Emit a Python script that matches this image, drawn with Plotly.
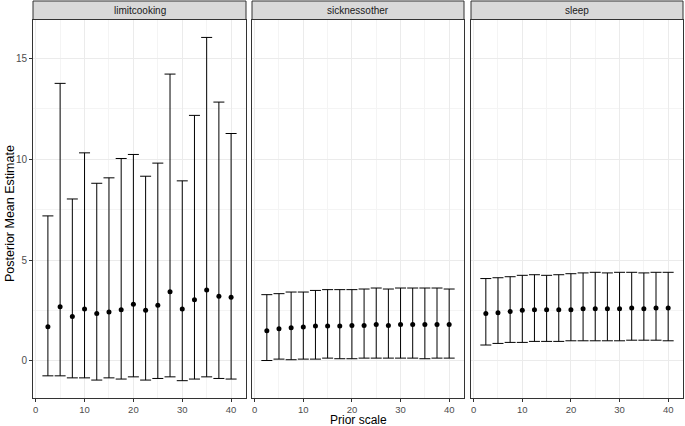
import plotly.graph_objects as go

prior_scale = [2.5, 5, 7.5, 10, 12.5, 15, 17.5, 20, 22.5, 25, 27.5, 30, 32.5, 35, 37.5, 40]
panels = ["limitcooking", "sicknessother", "sleep"]

limitcooking_mean = [1.69, 2.68, 2.19, 2.57, 2.34, 2.42, 2.53, 2.80, 2.50, 2.76, 3.43, 2.57, 3.03, 3.51, 3.20, 3.15]
limitcooking_lower = [-0.75, -0.75, -0.85, -0.85, -0.96, -0.85, -0.91, -0.80, -0.96, -0.88, -0.80, -0.99, -0.91, -0.80, -0.88, -0.91]
limitcooking_upper = [7.19, 13.77, 8.03, 10.32, 8.81, 9.08, 10.04, 10.24, 9.16, 9.81, 14.23, 8.93, 12.18, 16.05, 12.84, 11.28]

sicknessother_mean = [1.49, 1.59, 1.64, 1.67, 1.72, 1.72, 1.72, 1.75, 1.75, 1.80, 1.75, 1.80, 1.80, 1.80, 1.80, 1.80]
sicknessother_lower = [0.01, 0.08, 0.05, 0.08, 0.08, 0.13, 0.10, 0.10, 0.13, 0.13, 0.13, 0.13, 0.13, 0.10, 0.13, 0.13]
sicknessother_upper = [3.28, 3.33, 3.41, 3.41, 3.49, 3.53, 3.53, 3.53, 3.56, 3.61, 3.56, 3.61, 3.61, 3.61, 3.61, 3.56]

sleep_mean = [2.34, 2.38, 2.45, 2.50, 2.53, 2.53, 2.53, 2.53, 2.58, 2.58, 2.58, 2.58, 2.62, 2.58, 2.62, 2.62]
sleep_lower = [0.78, 0.86, 0.91, 0.91, 0.96, 0.96, 0.96, 0.99, 0.99, 0.99, 0.99, 0.99, 1.02, 1.02, 1.02, 0.99]
sleep_upper = [4.08, 4.12, 4.17, 4.24, 4.27, 4.24, 4.27, 4.32, 4.36, 4.39, 4.36, 4.39, 4.39, 4.36, 4.39, 4.39]

x_ticks = [0, 10, 20, 30, 40]
y_ticks = [0, 5, 10, 15]

series = [
    (limitcooking_mean, limitcooking_lower, limitcooking_upper),
    (sicknessother_mean, sicknessother_lower, sicknessother_upper),
    (sleep_mean, sleep_lower, sleep_upper),
]

W, H = 685, 426
ML, MR, MT, MB = 33, 2, 1, 28
PW = W - ML - MR
PH = H - MT - MB

def px_x(p):
    return (p - ML) / PW

def px_y(p):
    return (H - MB - p) / PH

x_domains = [(px_x(33), px_x(246)), (px_x(252), px_x(464)), (px_x(471), px_x(683))]
panel_top = px_y(19.5)

fig = go.Figure()
grid_major = "#EBEBEB"
axis_col = "#333333"
font_family = "Liberation Sans, Arial, sans-serif"

for i, (m, lo, up) in enumerate(series):
    suffix = "" if i == 0 else str(i + 1)
    fig.add_trace(go.Scatter(
        x=prior_scale, y=m, mode="markers",
        marker=dict(color="black", size=5),
        error_y=dict(type="data", symmetric=False,
                     array=[u - v for u, v in zip(up, m)],
                     arrayminus=[v - l for v, l in zip(m, lo)],
                     color="black", thickness=1, width=5.5),
        xaxis="x" + suffix, yaxis="y" + suffix, showlegend=False,
    ))
    xa = dict(
        domain=list(x_domains[i]), anchor="y" + suffix, range=[-0.55, 43.05],
        tickvals=x_ticks, ticks="outside", ticklen=2.5, tickwidth=1, tickcolor=axis_col,
        tickfont=dict(size=9.5, color="#4D4D4D", family=font_family),
        showgrid=True, gridcolor=grid_major, gridwidth=1,
        minor=dict(dtick=5, tick0=0, showgrid=True, gridcolor="#F4F4F4", gridwidth=0.6, ticks=""),
        showline=True, linecolor=axis_col, linewidth=1, mirror=True, zeroline=False,
    )
    ya = dict(
        domain=[0, panel_top], anchor="x" + suffix, range=[-1.85, 16.94],
        tickvals=y_ticks, ticks="outside" if i == 0 else "", ticklen=3, tickwidth=1, tickcolor=axis_col,
        showticklabels=(i == 0),
        tickfont=dict(size=10, color="#4D4D4D", family=font_family),
        showgrid=True, gridcolor=grid_major, gridwidth=1,
        minor=dict(dtick=2.5, tick0=0, showgrid=True, gridcolor="#F4F4F4", gridwidth=0.6, ticks=""),
        showline=True, linecolor=axis_col, linewidth=1, mirror=True, zeroline=False,
    )
    if i > 0:
        ya["matches"] = "y"
    fig.layout["xaxis" + suffix] = xa
    fig.layout["yaxis" + suffix] = ya

    fig.add_shape(type="rect", xref="x" + suffix + " domain", yref="paper",
                  x0=0, x1=1, y0=panel_top, y1=1.0,
                  fillcolor="#D9D9D9", line=dict(color=axis_col, width=1), layer="above")
    fig.add_annotation(text=panels[i], xref="x" + suffix + " domain", yref="paper",
                       x=0.5, y=(panel_top + 1.0) / 2, showarrow=False,
                       xanchor="center", yanchor="middle",
                       font=dict(size=10, color="#1A1A1A", family=font_family))

fig.add_annotation(text="Prior scale", xref="paper", yref="paper",
                   x=px_x(358), y=px_y(420.5), showarrow=False, xanchor="center", yanchor="middle",
                   borderpad=0,
                   font=dict(size=12, color="black", family=font_family))
fig.add_annotation(text="Posterior Mean Estimate", xref="paper", yref="paper",
                   x=px_x(10), y=px_y(214), showarrow=False, textangle=-90,
                   xanchor="center", yanchor="middle",
                   font=dict(size=12.5, color="black", family=font_family))

fig.update_layout(
    width=W, height=H, margin=dict(l=ML, r=MR, t=MT, b=MB),
    paper_bgcolor="white", plot_bgcolor="white",
    font=dict(family=font_family),
)

fig.write_html("out.html", config={"displayModeBar": False},
               post_script="document.body.style.margin='0';document.body.style.overflow='hidden';")
